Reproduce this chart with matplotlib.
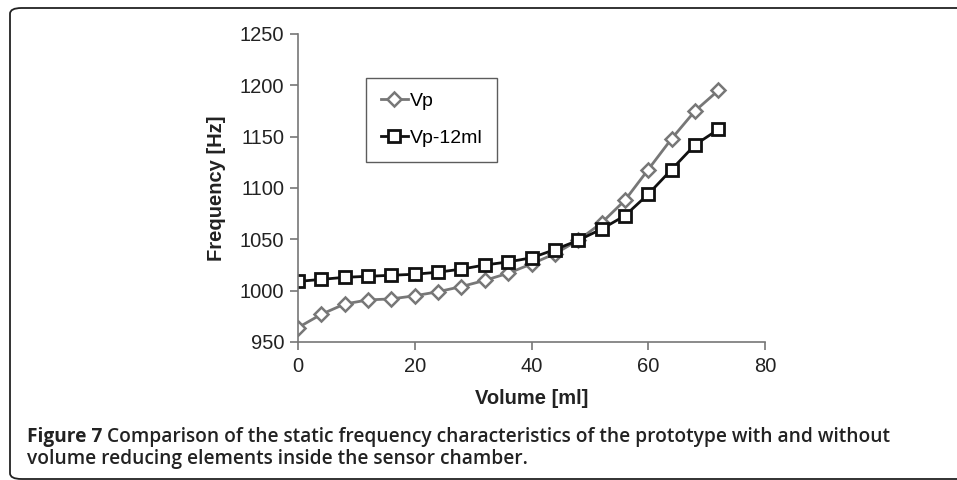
import matplotlib
matplotlib.use("Agg")
import matplotlib.pyplot as plt
from matplotlib.patches import FancyBboxPatch

volume = [0, 4, 8, 12, 16, 20, 24, 28, 32, 36, 40, 44, 48, 52, 56, 60, 64, 68, 72]
vp = [964, 977, 987, 991, 992, 995, 999, 1004, 1010, 1017, 1026, 1036, 1049, 1066, 1088, 1118, 1148, 1175, 1195]
vp_12ml = [1009, 1011, 1013, 1014, 1015, 1016, 1018, 1021, 1025, 1028, 1032, 1040, 1049, 1060, 1073, 1094, 1118, 1142, 1157]
xticks = [0, 20, 40, 60, 80]
yticks = [950, 1000, 1050, 1100, 1150, 1200, 1250]

plt.rcParams['font.family'] = ['Liberation Sans', 'DejaVu Sans']
fig = plt.figure(figsize=(9.57, 4.8), dpi=100)

border = FancyBboxPatch((10/957, 1/480), 980/957, 471/480,
                        boxstyle="round,pad=0,rounding_size=0.012",
                        transform=fig.transFigure, fill=False, edgecolor='#222222',
                        linewidth=1.3, clip_on=False)
fig.patches.append(border)

ax = fig.add_axes([298/957, 1-342/480, 467/957, 308/480])
ax.plot(volume, vp, color='#777777', lw=2, marker='D', ms=7.5, mfc='white', mec='#777777', mew=1.8, label='Vp')
ax.plot(volume, vp_12ml, color='#111111', lw=2, marker='s', ms=8, mfc='white', mec='#111111', mew=2, label='Vp-12ml')

ax.set_xlim(0, 80)
ax.set_ylim(950, 1250)
ax.set_xticks(xticks)
ax.set_yticks(yticks)
for s in ['top', 'right']:
    ax.spines[s].set_visible(False)
for s in ['left', 'bottom']:
    ax.spines[s].set_color('#777777')
    ax.spines[s].set_linewidth(1.2)
ax.tick_params(axis='both', colors='#777777', labelcolor='#222222', labelsize=14.5, length=6, width=1.2)
ax.tick_params(axis='x', pad=5)
ax.tick_params(axis='y', pad=4)
ax.set_xlabel('Volume [ml]', fontsize=14.5, fontweight='bold', color='#222222', labelpad=9)
ax.set_ylabel('Frequency [Hz]', fontsize=14.5, fontweight='bold', color='#222222', labelpad=10)

leg = ax.legend(loc='upper left', bbox_to_anchor=((366-298)/467, (342-78)/308), fontsize=14,
                frameon=True, fancybox=False, edgecolor='#333333', handlelength=1.4,
                handletextpad=0.1, borderpad=0.75, labelspacing=1.0, borderaxespad=0)
leg.get_frame().set_linewidth(1)

cap_family = ['Open Sans', 'DejaVu Sans']
t1 = fig.text(27/957, 1-442/480, 'Figure 7 ', fontsize=13.8, fontweight='bold',
              family=cap_family, color='#222222', va='baseline')
fig.canvas.draw()
bb = t1.get_window_extent(renderer=fig.canvas.get_renderer())
fig.text(bb.x1/957, 1-442/480, 'Comparison of the static frequency characteristics of the prototype with and without',
         fontsize=13.8, fontweight='semibold', family=cap_family, color='#222222', va='baseline')
fig.text(27/957, 1-464/480, 'volume reducing elements inside the sensor chamber.',
         fontsize=13.8, fontweight='semibold', family=cap_family, color='#222222', va='baseline')

fig.savefig('out.png', dpi=100)
